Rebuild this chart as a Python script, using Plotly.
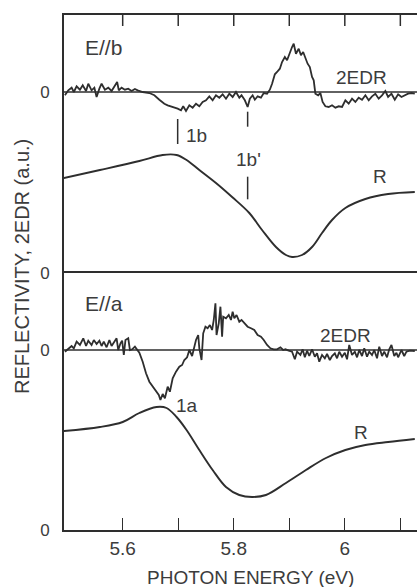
import plotly.graph_objects as go
from plotly.subplots import make_subplots

# ---------------- data ----------------
# E // b : electroreflectance (2EDR) and reflectivity (R)
eb_energy = [5.496, 5.502, 5.508, 5.512, 5.517, 5.523, 5.528, 5.534, 5.538, 5.544,
             5.549, 5.553, 5.558, 5.562, 5.568, 5.574, 5.580, 5.586, 5.590, 5.593,
             5.598, 5.604, 5.610, 5.616, 5.622, 5.627, 5.636, 5.648, 5.657, 5.666,
             5.675, 5.681, 5.687, 5.693, 5.699, 5.705, 5.709, 5.714, 5.720, 5.726,
             5.732, 5.738, 5.744, 5.750, 5.756, 5.762, 5.768, 5.774, 5.780, 5.786,
             5.792, 5.798, 5.804, 5.810, 5.814, 5.820, 5.825, 5.829, 5.834, 5.838,
             5.843, 5.849, 5.854, 5.860, 5.865, 5.869, 5.874, 5.878, 5.883, 5.887,
             5.892, 5.896, 5.900, 5.905, 5.908, 5.912, 5.917, 5.921, 5.925, 5.929,
             5.933, 5.937, 5.941, 5.944, 5.947, 5.952, 5.956, 5.960, 5.965, 5.971,
             5.977, 5.983, 5.989, 5.995, 6.001, 6.007, 6.013, 6.019, 6.025, 6.031,
             6.037, 6.043, 6.049, 6.055, 6.061, 6.067, 6.073, 6.078, 6.084, 6.090,
             6.096, 6.102, 6.108, 6.114, 6.120, 6.126]
eb_2edr = [-0.033, 0.017, 0.043, 0.0, 0.057, 0.023, 0.067, 0.010, 0.083, 0.017,
           0.043, -0.050, 0.033, 0.083, 0.023, 0.043, 0.010, 0.067, 0.100, 0.017,
           0.043, 0.023, 0.033, 0.010, 0.030, 0.017, 0.0, -0.010, -0.033, -0.077,
           -0.117, -0.133, -0.143, -0.157, -0.167, -0.183, -0.143, -0.190, -0.133, -0.157,
           -0.117, -0.143, -0.100, -0.083, -0.043, -0.083, -0.033, -0.057, -0.023, -0.067,
           -0.017, -0.050, 0.0, -0.057, -0.033, -0.083, -0.150, -0.067, -0.033, -0.077,
           -0.043, -0.057, -0.010, -0.017, 0.023, 0.083, 0.177, 0.200, 0.233, 0.300,
           0.350, 0.317, 0.383, 0.450, 0.483, 0.383, 0.433, 0.367, 0.400, 0.333,
           0.283, 0.250, 0.150, 0.117, -0.017, -0.033, -0.010, -0.100, -0.143, -0.150,
           -0.133, -0.157, -0.143, -0.150, -0.083, -0.117, -0.067, -0.100, -0.057, -0.077,
           -0.033, -0.083, -0.043, -0.017, -0.067, -0.033, 0.010, -0.050, -0.017, -0.077,
           -0.023, -0.050, -0.033, -0.017, -0.010, -0.017]
eb_r_energy = [5.494, 5.559, 5.630, 5.672, 5.697, 5.715, 5.738, 5.768, 5.797, 5.828,
               5.851, 5.876, 5.894, 5.905, 5.923, 5.941, 5.959, 5.977, 6.001, 6.037,
               6.078, 6.126]
eb_r = [0.95, 1.03, 1.12, 1.18, 1.18, 1.13, 1.03, 0.90, 0.76, 0.60,
        0.43, 0.26, 0.18, 0.16, 0.18, 0.26, 0.40, 0.53, 0.65, 0.74,
        0.79, 0.81]

# E // a : electroreflectance (2EDR) and reflectivity (R)
ea_energy = [5.496, 5.502, 5.508, 5.512, 5.517, 5.523, 5.529, 5.534, 5.538, 5.544,
             5.548, 5.553, 5.558, 5.562, 5.566, 5.571, 5.576, 5.580, 5.584, 5.589,
             5.592, 5.596, 5.599, 5.602, 5.605, 5.610, 5.613, 5.617, 5.622, 5.626,
             5.630, 5.636, 5.642, 5.648, 5.654, 5.660, 5.665, 5.668, 5.672, 5.676,
             5.681, 5.685, 5.690, 5.696, 5.702, 5.707, 5.711, 5.716, 5.720, 5.725,
             5.729, 5.732, 5.736, 5.738, 5.742, 5.745, 5.749, 5.753, 5.757, 5.761,
             5.764, 5.767, 5.769, 5.773, 5.776, 5.779, 5.781, 5.786, 5.791, 5.795,
             5.798, 5.801, 5.805, 5.810, 5.814, 5.819, 5.825, 5.831, 5.837, 5.843,
             5.849, 5.854, 5.860, 5.866, 5.872, 5.878, 5.884, 5.889, 5.893, 5.899,
             5.905, 5.910, 5.914, 5.920, 5.924, 5.928, 5.932, 5.936, 5.941, 5.946,
             5.950, 5.954, 5.959, 5.964, 5.968, 5.973, 5.977, 5.982, 5.986, 5.990,
             5.995, 6.000, 6.004, 6.008, 6.013, 6.018, 6.022, 6.026, 6.031, 6.035,
             6.040, 6.044, 6.049, 6.053, 6.058, 6.062, 6.067, 6.071, 6.076, 6.080,
             6.084, 6.089, 6.093, 6.096, 6.102, 6.107, 6.111, 6.117, 6.126]
ea_2edr = [-0.017, 0.007, 0.040, 0.017, 0.083, 0.050, 0.117, 0.040, 0.093, 0.050,
           0.100, 0.060, 0.093, 0.040, 0.083, 0.027, 0.100, 0.040, 0.073, 0.117,
           0.0, 0.067, 0.093, -0.050, 0.100, 0.117, 0.0, 0.007, 0.033, 0.0,
           -0.027, -0.117, -0.233, -0.317, -0.367, -0.407, -0.450, -0.500, -0.440, -0.483,
           -0.367, -0.417, -0.283, -0.217, -0.167, -0.150, -0.100, -0.073, 0.0, -0.060,
           0.033, 0.100, 0.150, 0.017, -0.100, 0.167, 0.233, 0.217, 0.250, 0.200,
           0.300, 0.467, 0.150, 0.267, 0.433, 0.133, 0.333, 0.317, 0.350, 0.300,
           0.383, 0.317, 0.350, 0.283, 0.300, 0.267, 0.233, 0.217, 0.200, 0.150,
           0.133, 0.100, 0.050, 0.017, 0.007, 0.007, 0.027, 0.0, 0.007, -0.007,
           -0.017, -0.093, -0.017, -0.050, 0.007, -0.073, -0.007, -0.060, 0.007, -0.067,
           -0.033, -0.117, -0.050, -0.083, -0.040, -0.100, -0.060, -0.033, -0.083, -0.017,
           -0.067, -0.027, -0.093, 0.050, -0.050, -0.017, -0.073, 0.0, -0.060, 0.017,
           -0.067, -0.017, -0.050, 0.0, -0.083, 0.033, -0.060, -0.017, -0.073, 0.007,
           0.050, -0.060, -0.027, -0.073, 0.0, -0.060, -0.017, -0.007, -0.010]
ea_r_energy = [5.494, 5.559, 5.600, 5.630, 5.661, 5.679, 5.697, 5.715, 5.738, 5.762,
               5.786, 5.810, 5.833, 5.858, 5.894, 5.930, 5.966, 6.001, 6.037, 6.078,
               6.126]
ea_r = [0.99, 1.03, 1.08, 1.17, 1.23, 1.22, 1.13, 1.00, 0.80, 0.60,
        0.43, 0.35, 0.33, 0.35, 0.47, 0.60, 0.72, 0.80, 0.85, 0.88,
        0.91]

# vertical offset of each 2EDR trace (its own "0")
edr_zero_b = 1.81
edr_zero_a = 1.80

# structure markers (energy, lower end, upper end)
mark_1b = (5.699, 1.29, 1.54)
mark_1bp_upper = (5.825, 1.463, 1.613)
mark_1bp_lower = (5.825, 0.737, 0.963)

x_ticks = [5.6, 5.7, 5.8, 5.9, 6.0, 6.1]
x_ticktext = ["5.6", "", "5.8", "", "6", ""]
x_range = [5.4943, 6.1300]

# ---------------- figure ----------------
INK = "#2e2e2e"
TXT = "#3c3c3c"
FONT = "Liberation Sans, Arial, sans-serif"

fig = make_subplots(rows=2, cols=1, vertical_spacing=0,
                    row_heights=[258, 257])

def add_line(x, y, row, width=1.9, shape="linear"):
    fig.add_trace(go.Scatter(x=x, y=y, mode="lines",
                             line=dict(color=INK, width=width, shape=shape),
                             showlegend=False, hoverinfo="skip"),
                  row=row, col=1)

# top panel: E // b
add_line(x_range, [edr_zero_b, edr_zero_b], 1, width=1.3)
add_line(eb_energy, [edr_zero_b + v for v in eb_2edr], 1, width=1.8)
add_line(eb_r_energy, eb_r, 1, width=1.9, shape="spline")
for e, lo, hi in (mark_1b, mark_1bp_upper, mark_1bp_lower):
    add_line([e, e], [lo, hi], 1, width=1.5)

# bottom panel: E // a
add_line(x_range, [edr_zero_a, edr_zero_a], 2, width=1.3)
add_line(ea_energy, [edr_zero_a + v for v in ea_2edr], 2, width=1.8)
add_line(ea_r_energy, ea_r, 2, width=1.9, shape="spline")

axis_common = dict(range=x_range, tickvals=x_ticks,
                   showgrid=False, zeroline=False, showline=True,
                   linecolor=INK, linewidth=1.6, tickcolor=INK, tickwidth=1.4)
fig.update_xaxes(**axis_common, side="top", ticks="", showticklabels=False,
                 row=1, col=1)
fig.update_xaxes(**axis_common, ticktext=x_ticktext, side="bottom",
                 ticks="inside", ticklen=12, mirror=True,
                 tickfont=dict(family=FONT, size=19, color=TXT),
                 row=2, col=1)

# upper tick row hanging from the top frame edge
for t in x_ticks:
    fig.add_shape(type="line", xref="x", yref="y domain",
                  x0=t, x1=t, y0=1.0, y1=1.0 - 11 / 258,
                  line=dict(color=INK, width=1.5))

y_common = dict(showgrid=False, zeroline=False, showline=True, mirror=False,
                linecolor=INK, linewidth=1.6, ticks="",
                ticklabelstandoff=9,
                tickfont=dict(family=FONT, size=17, color=TXT))
fig.update_yaxes(**y_common, range=[0, 2.58], tickvals=[0, edr_zero_b],
                 ticktext=["0", "0"], row=1, col=1)
fig.update_yaxes(**y_common, range=[0, 2.57], tickvals=[0, edr_zero_a],
                 ticktext=["0", "0"], row=2, col=1)

def label(text, x, y, xref, yref, size=19, xanchor="center"):
    fig.add_annotation(text=text, x=x, y=y, xref=xref, yref=yref,
                       showarrow=False, xanchor=xanchor, yanchor="middle",
                       font=dict(family=FONT, size=size, color=TXT))

label("E//b", 5.528, 2.26, "x", "y", size=21, xanchor="left")
label("2EDR", 6.030, 1.96, "x", "y")
label("1b", 5.733, 1.38, "x", "y")
label("1b'", 5.826, 1.14, "x", "y")
label("R", 6.064, 0.97, "x", "y")

label("E//a", 5.528, 2.27, "x2", "y2", size=21, xanchor="left")
label("2EDR", 6.001, 1.95, "x2", "y2")
label("1a", 5.716, 1.25, "x2", "y2")
label("R", 6.030, 0.98, "x2", "y2")

fig.add_annotation(text="REFLECTIVITY, 2EDR (a.u.)", xref="paper", yref="paper",
                   x=-0.119, y=0.5126, textangle=-90, showarrow=False,
                   xanchor="center", yanchor="middle",
                   font=dict(family=FONT, size=20, color=TXT))
fig.add_annotation(text="PHOTON ENERGY (eV)", xref="paper", yref="paper",
                   x=0.527, y=-0.093, showarrow=False,
                   xanchor="center", yanchor="middle",
                   font=dict(family=FONT, size=19, color=TXT))

fig.update_layout(width=417, height=587,
                  margin=dict(l=64, r=0, t=15, b=57),
                  paper_bgcolor="white", plot_bgcolor="white")

fig.write_html("out.html")
